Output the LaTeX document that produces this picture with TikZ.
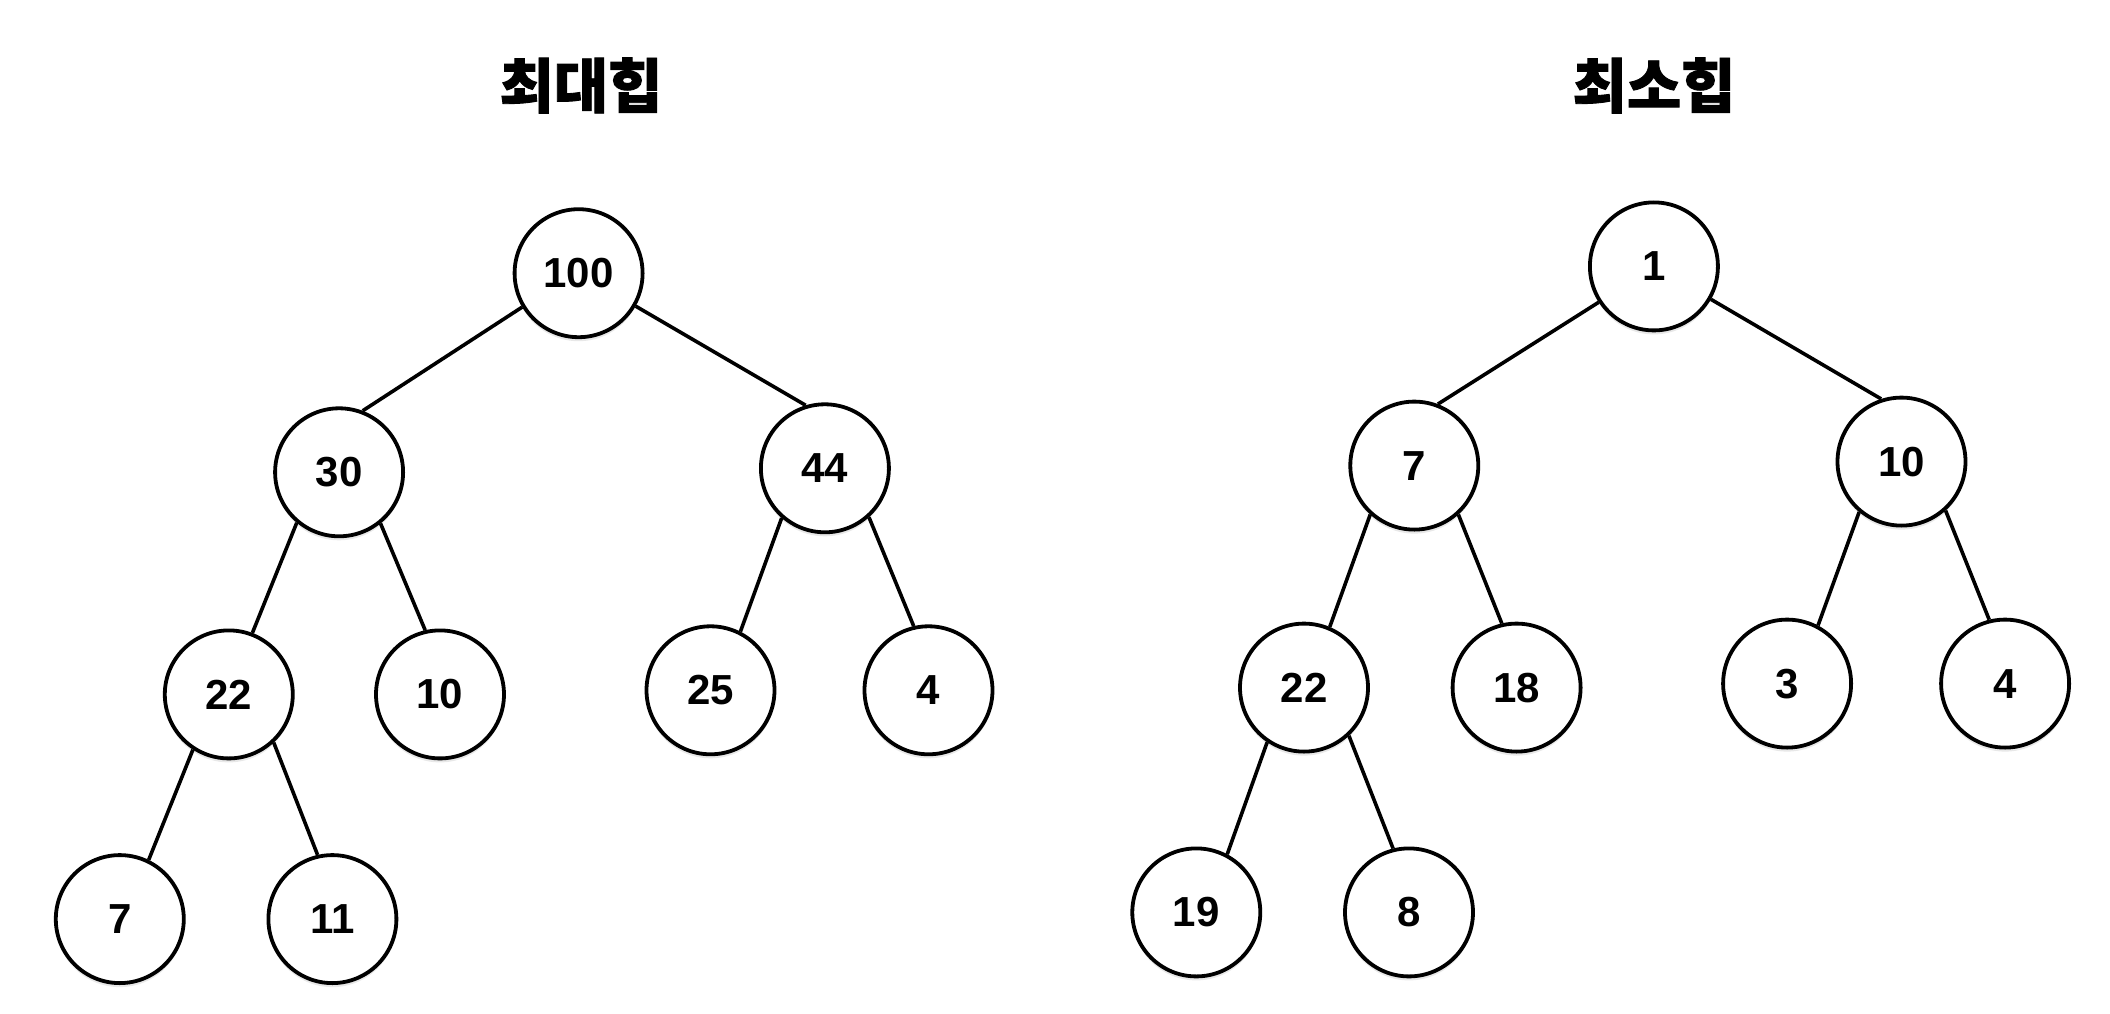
\documentclass[tikz,border=0pt]{standalone}
\usepackage{fontspec}
\setmainfont{Liberation Sans}
\newfontfamily\kr[BoldFeatures={FakeBold=1.5}]{Noto Sans CJK KR}
\usetikzlibrary{shadows}
\begin{document}
\begin{tikzpicture}[x=1pt,y=-1pt,
  hnode/.style={circle,draw=black,line width=3.8pt,fill=white,minimum size=128pt,inner sep=0pt,
    font=\fontsize{42}{46}\selectfont\bfseries,
    drop shadow={opacity=0.18,shadow xshift=0pt,shadow yshift=-4pt}},
  edge/.style={line width=3.6pt},
  ttl/.style={font=\kr\fontsize{59}{66}\selectfont\bfseries}]
\useasboundingbox (0,0) rectangle (2110,1014);
\node[ttl] (t1) at (581,85.5) {최대힙};
\node[ttl] (t2) at (1654,85.5) {최소힙};
% max heap
\node[hnode] (a1) at (578.6,273.2) {100};
\node[hnode] (a2) at (339.1,472.3) {30};
\node[hnode] (a3) at (824.9,468.3) {44};
\node[hnode] (a4) at (228.8,694.4) {22};
\node[hnode] (a5) at (440.0,694.4) {10};
\node[hnode] (a6) at (710.5,690.3) {25};
\node[hnode] (a7) at (928.5,690.3) {4};
\node[hnode] (a8) at (119.8,919.1) {7};
\node[hnode] (a9) at (332.4,919.1) {11};
% min heap
\node[hnode] (b1) at (1653.9,266.4) {1};
\node[hnode] (b2) at (1414.3,465.6) {7};
\node[hnode] (b3) at (1901.5,461.6) {10};
\node[hnode] (b4) at (1304.0,687.6) {22};
\node[hnode] (b5) at (1516.6,687.6) {18};
\node[hnode] (b6) at (1787.1,683.6) {3};
\node[hnode] (b7) at (2005.1,683.6) {4};
\node[hnode] (b8) at (1196.3,912.4) {19};
\node[hnode] (b9) at (1409.0,912.4) {8};
% edges (anchor angles in page orientation)
\draw[edge] (a1.211) -- (a2.69);
\draw[edge] (a1.330) -- (a3.107);
\draw[edge] (a2.230) -- (a4.69);
\draw[edge] (a2.309) -- (a5.103);
\draw[edge] (a3.229) -- (a6.63);
\draw[edge] (a3.312) -- (a7.103);
\draw[edge] (a4.237) -- (a8.64);
\draw[edge] (a4.313) -- (a9.103);
\draw[edge] (b1.213) -- (b2.69);
\draw[edge] (b1.330) -- (b3.108);
\draw[edge] (b2.228) -- (b4.67);
\draw[edge] (b2.312) -- (b5.103);
\draw[edge] (b3.230) -- (b6.62);
\draw[edge] (b3.312) -- (b7.104);
\draw[edge] (b4.236) -- (b8.62);
\draw[edge] (b4.313) -- (b9.104);
\end{tikzpicture}
\end{document}
